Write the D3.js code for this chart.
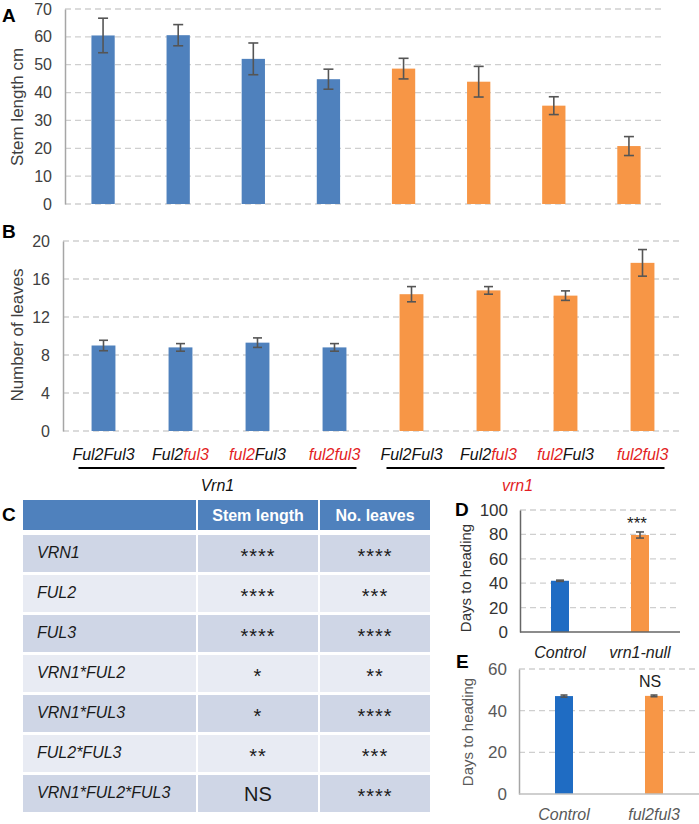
<!DOCTYPE html>
<html><head><meta charset="utf-8">
<script src="https://cdn.jsdelivr.net/npm/d3@7"></script>
<style>
body{margin:0;background:#fff}
svg{display:block;font-family:"Liberation Sans",Arial,Helvetica,sans-serif}
</style>
</head><body>
<svg id="chart" width="699" height="824"></svg>
<script>
// ---------------- data ----------------
const ful2Part = ["Ful2","Ful2","ful2","ful2","Ful2","Ful2","ful2","ful2"];
const ful3Part = ["Ful3","ful3","Ful3","ful3","Ful3","ful3","Ful3","ful3"];
const vrnGroups = ["Vrn1","vrn1"];
const stemLength = [60.5, 60.6, 52.1, 44.8, 48.6, 43.9, 35.3, 20.8];
const stemErr    = [6.2, 3.8, 5.7, 3.6, 3.7, 5.5, 3.2, 3.4];
const leafNumber = [9.0, 8.8, 9.3, 8.8, 14.4, 14.8, 14.25, 17.7];
const leafErr    = [0.55, 0.4, 0.5, 0.4, 0.8, 0.4, 0.5, 1.4];
const stemTicks = [0,10,20,30,40,50,60,70];
const leafTicks = [0,4,8,12,16,20];

const tableHeader = ["", "Stem length", "No. leaves"];
const tableTerms = ["VRN1","FUL2","FUL3","VRN1*FUL2","VRN1*FUL3","FUL2*FUL3","VRN1*FUL2*FUL3"];
const tableStem  = ["****","****","****","*","*","**","NS"];
const tableLeaves= ["****","***","****","**","****","***","****"];

const dCats = ["Control","vrn1-null"];
const dDays = [42.0, 79.5];
const dErr  = [0.5, 2.5];
const dSig  = ["", "***"];
const dTicks = [0,20,40,60,80,100];

const eCats = ["Control","ful2ful3"];
const eDays = [47.0, 47.1];
const eErr  = [0.5, 0.4];
const eSig  = ["", "NS"];
const eTicks = [0,20,40,60];

// ---------------- styles ----------------
const BLUE = "#4f81bd", ORANGE = "#f79646", RED = "#e31e24", DBLUE = "#1f6cc3";
const GRID = "#cfcfcf", ERR = "#555555";
const svg = d3.select("#chart");
const idx = d3.range(8);

function gridLines(g, y, ticks, x0, x1, skipZero) {
  g.selectAll("line.grid").data(ticks.filter(t => !(skipZero && t === 0))).join("line")
    .attr("class","grid")
    .attr("x1", x0).attr("x2", x1)
    .attr("y1", d => y(d)).attr("y2", d => y(d))
    .attr("stroke", GRID).attr("stroke-width", 1.3).attr("stroke-dasharray", "6,4");
}
function yAxis(g, y, ticks, xPos, color, lineColor, fontSize, pad) {
  const ax = g.append("g").attr("transform", `translate(${xPos},0)`)
    .call(d3.axisLeft(y).tickValues(ticks).tickSize(0).tickSizeOuter(0).tickPadding(pad));
  ax.select(".domain").attr("stroke", lineColor).attr("stroke-width", 1.5);
  ax.selectAll("text").attr("fill", color).attr("font-size", fontSize)
    .attr("font-family", '"Liberation Sans",Arial,sans-serif');
  return ax;
}
function errorBars(g, x, y, vals, errs, cap) {
  const sel = g.selectAll("g.err").data(vals).join("g").attr("class","err");
  const cx = (d,i) => x(x.domain()[i]) + x.bandwidth()/2;
  sel.append("line").attr("x1", cx).attr("x2", cx)
    .attr("y1", (d,i) => y(d + errs[i])).attr("y2", (d,i) => y(d - errs[i]))
    .attr("stroke", ERR).attr("stroke-width", 1.6);
  sel.append("line").attr("x1", (d,i) => cx(d,i) - cap/2).attr("x2", (d,i) => cx(d,i) + cap/2)
    .attr("y1", (d,i) => y(d + errs[i])).attr("y2", (d,i) => y(d + errs[i]))
    .attr("stroke", ERR).attr("stroke-width", 1.6);
  sel.append("line").attr("x1", (d,i) => cx(d,i) - cap/2).attr("x2", (d,i) => cx(d,i) + cap/2)
    .attr("y1", (d,i) => y(d - errs[i])).attr("y2", (d,i) => y(d - errs[i]))
    .attr("stroke", ERR).attr("stroke-width", 1.6);
}
function panelLetter(t, x, y) {
  svg.append("text").attr("x", x).attr("y", y).text(t)
    .attr("font-size", 19).attr("font-weight", "bold").attr("fill", "#000");
}

// ---------------- Panel A ----------------
{
  const g = svg.append("g");
  const x = d3.scaleBand().domain(idx).range([65.5, 666.5]).paddingInner(0.69).paddingOuter(0.345);
  const y = d3.scaleLinear().domain([0,70]).range([204, 9]);
  gridLines(g, y, stemTicks, 65, 663, false);
  g.selectAll("rect").data(stemLength).join("rect")
    .attr("x", (d,i) => x(i)).attr("width", x.bandwidth())
    .attr("y", d => y(d)).attr("height", d => y(0) - y(d))
    .attr("fill", (d,i) => i < 4 ? BLUE : ORANGE);
  errorBars(g, x, y, stemLength, stemErr, 10);
  yAxis(g, y, stemTicks, 65, "#404040", "#a6a6a6", 16, 13);
  g.append("text").attr("transform", "translate(23,107) rotate(-90)")
    .attr("text-anchor","middle").attr("font-size", 17).attr("fill", "#404040").text("Stem length cm");
  panelLetter("A", 2, 22);
}

// ---------------- Panel B ----------------
{
  const g = svg.append("g");
  const x = d3.scaleBand().domain(idx).range([65, 681]).paddingInner(0.69).paddingOuter(0.345);
  const y = d3.scaleLinear().domain([0,20]).range([431, 241]);
  gridLines(g, y, leafTicks, 63, 682, false);
  g.selectAll("rect").data(leafNumber).join("rect")
    .attr("x", (d,i) => x(i)).attr("width", x.bandwidth())
    .attr("y", d => y(d)).attr("height", d => y(0) - y(d))
    .attr("fill", (d,i) => i < 4 ? BLUE : ORANGE);
  errorBars(g, x, y, leafNumber, leafErr, 9);
  yAxis(g, y, leafTicks, 63, "#404040", "#a6a6a6", 16, 13);
  g.append("text").attr("transform", "translate(23,335) rotate(-90)")
    .attr("text-anchor","middle").attr("font-size", 17).attr("fill", "#404040").text("Number of leaves");
  panelLetter("B", 2, 238);

  // genotype labels
  const lab = g.selectAll("text.geno").data(idx).join("text").attr("class","geno")
    .attr("x", i => x(i) + x.bandwidth()/2).attr("y", 460)
    .attr("text-anchor","middle").attr("font-size", 16).attr("font-style","italic");
  lab.append("tspan").text(i => ful2Part[i]).attr("fill", i => ful2Part[i][0] === "f" ? RED : "#111");
  lab.append("tspan").text(i => ful3Part[i]).attr("fill", i => ful3Part[i][0] === "f" ? RED : "#111");

  // group lines
  vrnGroups.forEach((gr, k) => {
    const a = k*4, b = k*4 + 3;
    const x1 = x(a) + x.bandwidth()/2 - 25, x2 = x(b) + x.bandwidth()/2 + 22;
    g.append("line").attr("x1", x1).attr("x2", x2).attr("y1", 468).attr("y2", 468)
      .attr("stroke", "#000").attr("stroke-width", 2);
    g.append("text").attr("x", (x1 + x2)/2 - (k ? 8 : 0)).attr("y", 491)
      .attr("text-anchor","middle").attr("font-size", 16).attr("font-style","italic")
      .attr("fill", k ? RED : "#111").text(gr);
  });
}

// ---------------- Panel C (table) ----------------
{
  const g = svg.append("g");
  const colX = [23, 198, 320];
  const colW = [173, 120, 110];
  const headY = 500, headH = 30;
  const rowY0 = 535, rowPitch = 40, rowH = 37;
  colX.forEach((cx, j) => {
    g.append("rect").attr("x", cx).attr("y", headY).attr("width", colW[j]).attr("height", headH).attr("fill", BLUE);
    if (tableHeader[j]) g.append("text").attr("x", cx + colW[j]/2).attr("y", headY + 21)
      .attr("text-anchor","middle").attr("font-size", 16).attr("font-weight","bold").attr("fill","#fff").text(tableHeader[j]);
  });
  tableTerms.forEach((term, i) => {
    const ry = rowY0 + i*rowPitch;
    const fill = i % 2 === 0 ? "#cfd6e6" : "#e8ebf3";
    colX.forEach((cx, j) => {
      g.append("rect").attr("x", cx).attr("y", ry).attr("width", colW[j]).attr("height", rowH).attr("fill", fill);
    });
    g.append("text").attr("x", 37).attr("y", ry + 23).attr("font-size", 16).attr("font-style","italic")
      .attr("fill","#1a1a1a").text(term);
    [tableStem[i], tableLeaves[i]].forEach((s, k) => {
      const isNS = s === "NS";
      g.append("text").attr("x", colX[k+1] + colW[k+1]/2).attr("y", ry + (isNS ? 26 : 28))
        .attr("text-anchor","middle").attr("font-size", isNS ? 20 : 20)
        .attr("letter-spacing", isNS ? 0 : 1)
        .attr("fill","#1a1a1a").text(s);
    });
  });
  panelLetter("C", 2, 521);
}

// ---------------- Panel D ----------------
{
  const g = svg.append("g");
  const x = d3.scaleBand().domain(dCats).range([520, 680]).paddingInner(0.775).paddingOuter(0.3875);
  const y = d3.scaleLinear().domain([0,100]).range([632, 510]);
  gridLines(g, y, dTicks, 520, 680, true);
  g.selectAll("rect").data(dDays).join("rect")
    .attr("x", (d,i) => x(dCats[i])).attr("width", x.bandwidth())
    .attr("y", d => y(d)).attr("height", d => y(0) - y(d))
    .attr("fill", (d,i) => i === 0 ? DBLUE : ORANGE);
  errorBars(g, x, y, dDays, dErr, 8);
  yAxis(g, y, dTicks, 520, "#333", "#666", 17, 12);
  g.append("line").attr("x1", 520).attr("x2", 680).attr("y1", y(0)).attr("y2", y(0))
    .attr("stroke", "#666").attr("stroke-width", 1.5);
  g.selectAll("text.sig").data(dSig).join("text").attr("class","sig")
    .attr("x", (d,i) => x(dCats[i]) + x.bandwidth()/2 - 3).attr("y", 529)
    .attr("text-anchor","middle").attr("font-size", 17).attr("fill","#222").text(d => d);
  g.selectAll("text.cat").data(dCats).join("text").attr("class","cat")
    .attr("x", d => x(d) + x.bandwidth()/2).attr("y", 658)
    .attr("text-anchor","middle").attr("font-size", 16).attr("font-style","italic").attr("fill","#222").text(d => d);
  g.append("text").attr("transform", "translate(471,578) rotate(-90)")
    .attr("text-anchor","middle").attr("font-size", 15).attr("fill","#333").text("Days to heading");
  panelLetter("D", 455, 516);
}

// ---------------- Panel E ----------------
{
  const g = svg.append("g");
  const x = d3.scaleBand().domain(eCats).range([519, 699]).paddingInner(0.8).paddingOuter(0.4);
  const y = d3.scaleLinear().domain([0,60]).range([794, 669]);
  gridLines(g, y, eTicks, 519, 699, true);
  g.selectAll("rect").data(eDays).join("rect")
    .attr("x", (d,i) => x(eCats[i])).attr("width", x.bandwidth())
    .attr("y", d => y(d)).attr("height", d => y(0) - y(d))
    .attr("fill", (d,i) => i === 0 ? DBLUE : ORANGE);
  errorBars(g, x, y, eDays, eErr, 7);
  yAxis(g, y, eTicks, 519, "#595959", "#a6a6a6", 17, 12);
  g.append("line").attr("x1", 519).attr("x2", 699).attr("y1", y(0)).attr("y2", y(0))
    .attr("stroke", "#bfbfbf").attr("stroke-width", 1.5);
  g.selectAll("text.sig").data(eSig).join("text").attr("class","sig")
    .attr("x", (d,i) => x(eCats[i]) + x.bandwidth()/2 - 4).attr("y", 687)
    .attr("text-anchor","middle").attr("font-size", 16).attr("fill","#222").text(d => d);
  g.selectAll("text.cat").data(eCats).join("text").attr("class","cat")
    .attr("x", d => x(d) + x.bandwidth()/2).attr("y", 820)
    .attr("text-anchor","middle").attr("font-size", 16).attr("font-style","italic").attr("fill","#595959").text(d => d);
  g.append("text").attr("transform", "translate(473,732) rotate(-90)")
    .attr("text-anchor","middle").attr("font-size", 15).attr("fill","#595959").text("Days to heading");
  panelLetter("E", 456, 668);
}
</script>
</body></html>
